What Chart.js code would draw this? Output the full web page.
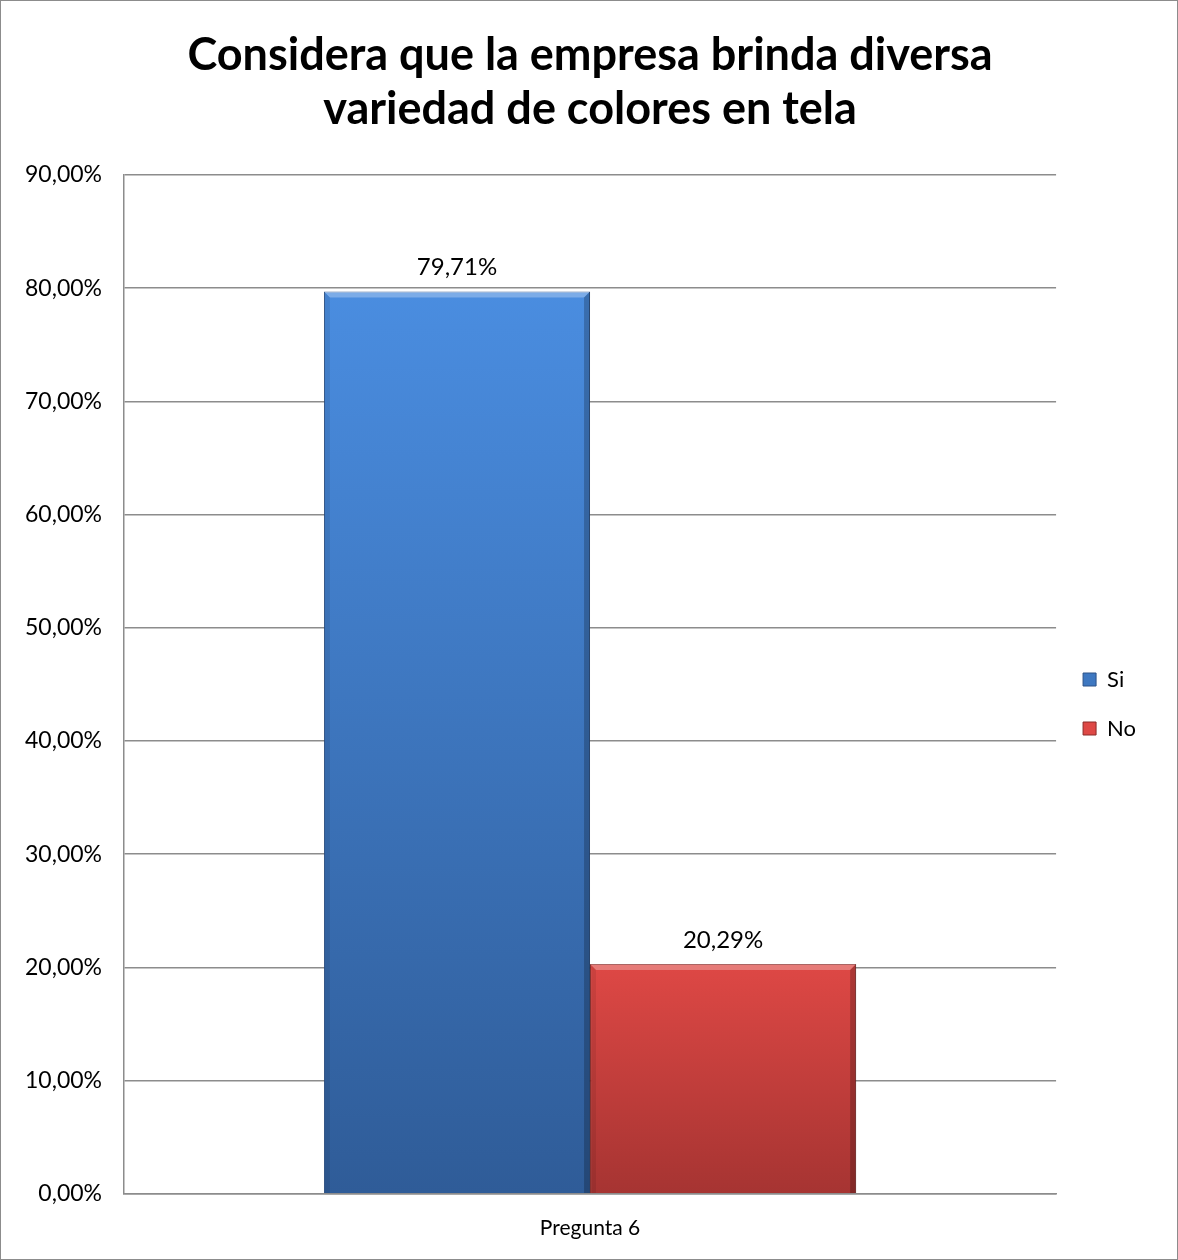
<!DOCTYPE html>
<html>
<head>
<meta charset="utf-8">
<script src="https://cdn.jsdelivr.net/npm/chart.js@4/dist/chart.umd.min.js"></script>
<style>
  body { margin: 0; background: #fff; }
  #wrap { width: 1176px; height: 1258px; border: 1px solid #8c8c8c; }
</style>
</head>
<body>
<div id="wrap"><canvas id="chart" width="1176" height="1258"></canvas></div>
<script>
const categories = ['Pregunta 6'];
const seriesNames = ['Si', 'No'];
const siValues = [0.7971];
const noValues = [0.2029];
const yTicks = [0, 0.1, 0.2, 0.3, 0.4, 0.5, 0.6, 0.7, 0.8, 0.9];

const FONT = 'Lato, "Open Sans", sans-serif';
const fmtPct = v => (v * 100).toFixed(2).replace('.', ',') + '%';

// vertical gradient from the top of each bar down to the axis
function barGradient(top, bottom) {
  return ctx => {
    const chart = ctx.chart;
    const area = chart.chartArea;
    if (!area || ctx.raw == null) return top;
    const yTop = chart.scales.y.getPixelForValue(ctx.raw);
    const g = chart.ctx.createLinearGradient(0, yTop, 0, area.bottom);
    g.addColorStop(0, top);
    g.addColorStop(1, bottom);
    return g;
  };
}

// light top edge and shaded sides, like the office bevel look
const bevel = {
  id: 'bevel',
  afterDatasetsDraw(chart) {
    const ctx = chart.ctx;
    const e = 6;
    ctx.save();
    chart.data.datasets.forEach((ds, i) => {
      chart.getDatasetMeta(i).data.forEach(bar => {
        const l = bar.x - bar.width / 2, r = bar.x + bar.width / 2;
        const t = bar.y, b = bar.base;
        ctx.fillStyle = 'rgba(255,255,255,0.28)';
        ctx.beginPath();
        ctx.moveTo(l, t); ctx.lineTo(r, t); ctx.lineTo(r - e, t + e); ctx.lineTo(l + e, t + e);
        ctx.closePath(); ctx.fill();
        ctx.fillStyle = 'rgba(0,0,0,0.08)';
        ctx.beginPath();
        ctx.moveTo(l, t); ctx.lineTo(l + e, t + e); ctx.lineTo(l + e, b); ctx.lineTo(l, b);
        ctx.closePath(); ctx.fill();
        ctx.fillStyle = 'rgba(0,0,0,0.22)';
        ctx.beginPath();
        ctx.moveTo(r, t); ctx.lineTo(r - e, t + e); ctx.lineTo(r - e, b); ctx.lineTo(r, b);
        ctx.closePath(); ctx.fill();
      });
    });
    ctx.restore();
  }
};

// value labels above each bar
const valueLabels = {
  id: 'valueLabels',
  afterDatasetsDraw(chart) {
    const ctx = chart.ctx;
    ctx.save();
    ctx.font = '24px ' + FONT;
    ctx.fillStyle = '#000';
    ctx.textAlign = 'center';
    ctx.textBaseline = 'bottom';
    chart.data.datasets.forEach((ds, i) => {
      chart.getDatasetMeta(i).data.forEach((bar, j) => {
        ctx.fillText(fmtPct(ds.data[j]), bar.x, bar.y - 12);
      });
    });
    ctx.restore();
  }
};

new Chart(document.getElementById('chart'), {
  type: 'bar',
  data: {
    labels: categories,
    datasets: [
      {
        label: seriesNames[0],
        data: siValues,
        backgroundColor: barGradient('#4a8de0', '#2f5c98'),
        borderColor: '#2c5288',
        borderWidth: 1
      },
      {
        label: seriesNames[1],
        data: noValues,
        backgroundColor: barGradient('#de4845', '#a63432'),
        borderColor: '#8a2a28',
        borderWidth: 1
      }
    ]
  },
  options: {
    responsive: false,
    animation: false,
    layout: { padding: { left: 20, right: 31, top: 0, bottom: 4 } },
    datasets: {
      bar: { categoryPercentage: 0.571, barPercentage: 1 }
    },
    plugins: {
      title: {
        display: true,
        fullSize: false,
        text: ['Considera que la empresa brinda diversa', 'variedad de colores en tela'],
        color: '#000',
        font: { family: FONT, size: 45, weight: 'bold' },
        padding: { top: 27, bottom: 39 },
        lineHeight: 1.35
      },
      legend: {
        position: 'right',
        title: { display: true, text: ' ', padding: 64, font: { size: 20 } },
        labels: {
          color: '#000',
          boxWidth: 13,
          boxHeight: 13,
          padding: 27,
          font: { family: FONT, size: 22 }
        }
      },
      tooltip: { enabled: false }
    },
    scales: {
      x: {
        grid: { display: false },
        border: { color: '#8c8c8c', width: 1.5 },
        ticks: {
          color: '#000',
          padding: 14,
          font: { family: FONT, size: 21 }
        }
      },
      y: {
        min: 0,
        max: 0.9,
        afterBuildTicks: axis => { axis.ticks = yTicks.map(v => ({ value: v })); },
        afterFit: axis => { axis.width = 103; },
        grid: { color: '#8c8c8c', lineWidth: 1.5, drawTicks: false },
        border: { color: '#8c8c8c', width: 1.5 },
        ticks: {
          color: '#000',
          padding: 22,
          callback: v => fmtPct(v),
          font: { family: FONT, size: 23 }
        }
      }
    }
  },
  plugins: [bevel, valueLabels]
});
</script>
</body>
</html>
